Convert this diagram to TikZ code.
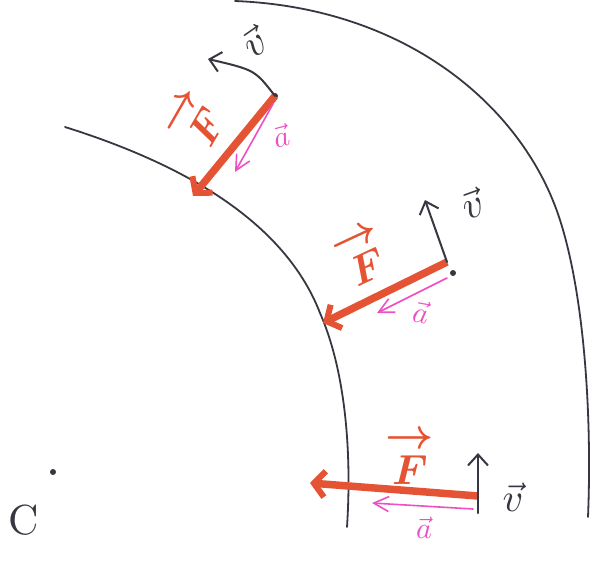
\documentclass[tikz,border=0pt]{standalone}
\usetikzlibrary{arrows.meta}
\definecolor{pen}{RGB}{55,55,65}
\definecolor{force}{RGB}{228,84,52}
\definecolor{accel}{RGB}{238,80,196}
\begin{document}
\begin{tikzpicture}[x=1pt,y=-1pt,
  track/.style={draw=pen, line width=1.8pt, line cap=round},
  vel/.style={draw=pen, line width=2pt, line cap=round, -{Straight Barb[length=11pt,width=20pt,line width=2pt]}},
  frc/.style={draw=force, line width=7.5pt, -{Straight Barb[length=11pt,width=26pt,line width=6pt]}},
  acc/.style={draw=accel, line width=1.6pt, line cap=round, -{Straight Barb[length=15pt,width=15pt,line width=1.6pt]}},
  vlab/.style={text=pen, scale=4, inner sep=0pt},
  flab/.style={text=force, font=\boldmath\fontsize{10}{8.6}\selectfont, align=center, scale=4.2, inner sep=0pt},
  alab/.style={text=accel, scale=3, inner sep=0pt},
  dotmark/.style={fill=pen, draw=none, circle, inner sep=0pt, minimum size=6pt}]
\useasboundingbox (0,0) rectangle (597,560);
\fill[white] (0,0) rectangle (597,560);

% tracks
\draw[track] (65,127) .. controls (170,160) and (282,215) .. (320,313)
                      .. controls (345,370) and (352,450) .. (347,527);
\draw[track] (235,1) .. controls (410,8) and (525,110) .. (560,220)
                     .. controls (585,298) and (592,420) .. (588,517);

% centre
\node[dotmark] (Cdot) at (53,472) {};
\node[text=pen, scale=4.2, inner sep=0pt] (Clab) at (24,520) {C};

% position 1
\node[dotmark] (P1) at (275,96) {};
\coordinate (F1) at (193,196);
\coordinate (V1m) at (255,70);
\coordinate (V1) at (208,59);
\coordinate (A1s) at (273,104);
\coordinate (A1) at (235,172);
\draw[frc] (P1.center) -- (F1);
\draw[vel] (P1.center) .. controls (V1m) .. (V1);
\draw[acc] (A1s) -- (A1);
\node[vlab, rotate=35] (v1) at (254,42) {$\vec v$};
\node[flab, rotate=60] (f1) at (197,121) {$\rightarrow$\\$F$};
\node[alab, rotate=15] (a1) at (281,136) {$\vec a$};

% position 2
\node[dotmark] (P2) at (453,273) {};
\coordinate (F2s) at (447,262);
\coordinate (F2) at (323,323);
\coordinate (V2) at (425,200);
\coordinate (A2s) at (447,278);
\coordinate (A2) at (377,313);
\draw[frc] (F2s) -- (F2);
\draw[vel] (F2s) -- (V2);
\draw[acc] (A2s) -- (A2);
\node[vlab, rotate=20] (v2) at (472,204) {$\vec v$};
\node[flab, rotate=25] (f2) at (363,256) {$\rightarrow$\\$F$};
\node[alab, rotate=-10] (a2) at (421,312) {$\vec a$};

% position 3
\coordinate (V3s) at (478,513);
\coordinate (V3) at (478,453);
\coordinate (F3s) at (478,496);
\coordinate (F3) at (310,483);
\coordinate (A3s) at (473,509);
\coordinate (A3) at (372,503);
\draw[frc] (F3s) -- (F3);
\draw[vel] (V3s) -- (V3);
\draw[acc] (A3s) -- (A3);
\node[vlab] (v3) at (513,497) {$\vec v$};
\node[flab] (f3) at (410,458) {$\rightarrow$\\$F$};
\node[alab] (a3) at (424,528) {$\vec a$};
\end{tikzpicture}
\end{document}
